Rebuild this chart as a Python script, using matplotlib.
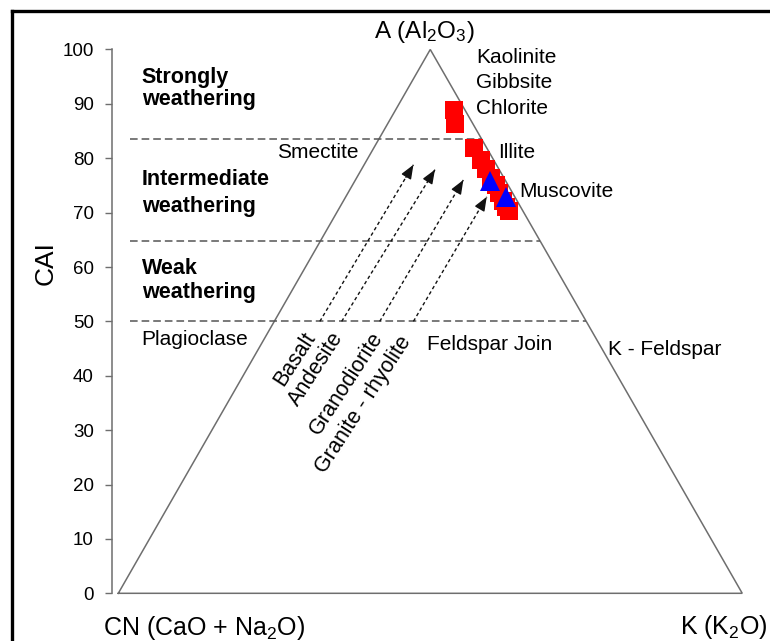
import matplotlib
matplotlib.use("Agg")
import matplotlib.pyplot as plt
from matplotlib.lines import Line2D

plt.rcParams["font.family"] = ["Liberation Sans", "DejaVu Sans"]
plt.rcParams["mathtext.fontset"] = "custom"
plt.rcParams["mathtext.rm"] = "Liberation Sans"
plt.rcParams["mathtext.default"] = "regular"

# samples: A (= CAI) and K shares of the ternary A-CN-K
square_a = [88.9, 86.3, 81.9, 79.6, 78.0, 76.4, 75.0, 73.6, 72.2, 71.0, 70.3]
square_k = [9.4, 10.8, 16.0, 18.4, 20.0, 21.6, 23.0, 24.2, 25.6, 26.6, 27.4]
tri_a = [75.9, 72.9]
tri_k = [21.6, 25.7]

# weathering boundaries (CAI)
zone_levels = [83.5, 64.8, 50.0]
y_ticks = list(range(0, 101, 10))

# weathering trends of fresh rocks, starting on the feldspar join
trend_names = ["Basalt", "Andesite", "Granodiorite", "Granite - rhyolite"]
trend_k_start = [7.3, 10.8, 16.9, 22.3]
trend_k_end = [7.9, 11.8, 17.3, 22.6]
trend_a_end = [78.8, 77.9, 76.0, 72.9]
feldspar_join = 50.0


def tern(a, k):
    """A-CN-K point to plot coordinates (CN at x=0, K at x=100)."""
    return k + a / 2.0, a


GRAY = "#6e6e6e"

fig = plt.figure(figsize=(7.7, 6.41), dpi=100)
ax = fig.add_axes([0, 0, 1, 1])
ax.set_xlim(-18.96, 104.45)
ax.set_ylim(-8.77, 109.1)

# triangle
cx, cy = zip(*[tern(0, 0), tern(0, 100), tern(100, 0), tern(0, 0)])
ax.plot(cx, cy, color=GRAY, lw=1.1, solid_joinstyle="miter")

# zone boundaries
for lev in zone_levels:
    ax.plot([1.9, 100 - lev / 2.0], [lev, lev], color="#555555", lw=1.1,
            dashes=(5, 2.6))

# trend arrows: dotted shaft, solid head
for ks, ke, ae in zip(trend_k_start, trend_k_end, trend_a_end):
    x0, y0 = tern(feldspar_join, ks)
    x1, y1 = tern(ae, ke)
    ax.plot([x0, x1], [y0, y1], color="#111111", lw=1.0, dashes=(2.5, 2))
    back = 0.08
    ax.annotate("", xy=(x1, y1),
                xytext=(x1 - back * (x1 - x0), y1 - back * (y1 - y0)),
                arrowprops=dict(arrowstyle="-|>,head_length=0.6,head_width=0.24",
                                color="#111111", lw=1.0, mutation_scale=14,
                                shrinkA=0, shrinkB=0))

sx, sy = zip(*[tern(a, k) for a, k in zip(square_a, square_k)])
ax.plot(sx, sy, "s", color="#ff0000", ms=12.5, mew=0, ls="none", zorder=4)
tx, ty = zip(*[tern(a, k) for a, k in zip(tri_a, tri_k)])
ax.plot(tx, ty, "^", color="#0000ff", ms=15, mew=0, ls="none", zorder=5)

# y axis (CAI)
for s in ["top", "right", "bottom"]:
    ax.spines[s].set_visible(False)
ax.spines["left"].set_position(("data", -1.01))
ax.spines["left"].set_bounds(0, 100)
ax.spines["left"].set_color(GRAY)
ax.spines["left"].set_linewidth(1.1)
ax.set_xticks([])
ax.set_yticks(y_ticks)
ax.tick_params(axis="y", direction="out", length=5, width=1.0, color=GRAY,
               labelsize=13.5, pad=8)
ax.text(-11.7, 60.8, "CAI", rotation=90, fontsize=19, ha="center", va="center")

# corner labels
ax.text(49.0, 102.1, "A (Al$_2$O$_3$)", fontsize=17.5, ha="center", va="baseline")
ax.text(-2.45, -7.7, "CN (CaO + Na$_2$O)", fontsize=18, ha="left", va="baseline")
ax.text(90.0, -7.5, "K (K$_2$O)", fontsize=18, ha="left", va="baseline")

# zone labels
bold = dict(fontsize=15.5, fontweight="bold", ha="left", va="baseline")
ax.text(3.75, 93.8, "Strongly", **bold)
ax.text(3.75, 89.8, "weathering", **bold)
ax.text(3.75, 75.1, "Intermediate", **bold)
ax.text(3.75, 70.2, "weathering", **bold)
ax.text(3.75, 58.8, "Weak", **bold)
ax.text(3.75, 54.3, "weathering", **bold)

# minerals
norm = dict(fontsize=15, ha="left", va="baseline")
ax.text(57.4, 97.5, "Kaolinite", **norm)
ax.text(57.3, 92.9, "Gibbsite", **norm)
ax.text(57.3, 88.1, "Chlorite", **norm)
ax.text(60.9, 80.0, "Illite", **norm)
ax.text(64.3, 72.9, "Muscovite", **norm)
ax.text(25.4, 80.0, "Smectite", **norm)
ax.text(49.4, 44.7, "Feldspar Join", **norm)
ax.text(78.5, 43.8, "K - Feldspar", **norm)
ax.text(3.75, 45.7, "Plagioclase", **norm)

# rock names along the trends
name_pos = [(31.6, 47.2), (36.1, 47.2), (42.5, 47.2), (46.9, 46.4)]
for name, (px, py) in zip(trend_names, name_pos):
    ax.text(px, py, name, fontsize=15.5, rotation=57, rotation_mode="anchor",
            ha="right", va="baseline")

# frame of the original figure (left and top edges)
fig.add_artist(Line2D([0.0152, 0.0152], [0.0, 0.983], transform=fig.transFigure,
                      color="black", lw=2.4, solid_capstyle="projecting"))
fig.add_artist(Line2D([0.0152, 1.0], [0.983, 0.983], transform=fig.transFigure,
                      color="black", lw=2.4, solid_capstyle="projecting"))

fig.savefig("out.png", dpi=100)
